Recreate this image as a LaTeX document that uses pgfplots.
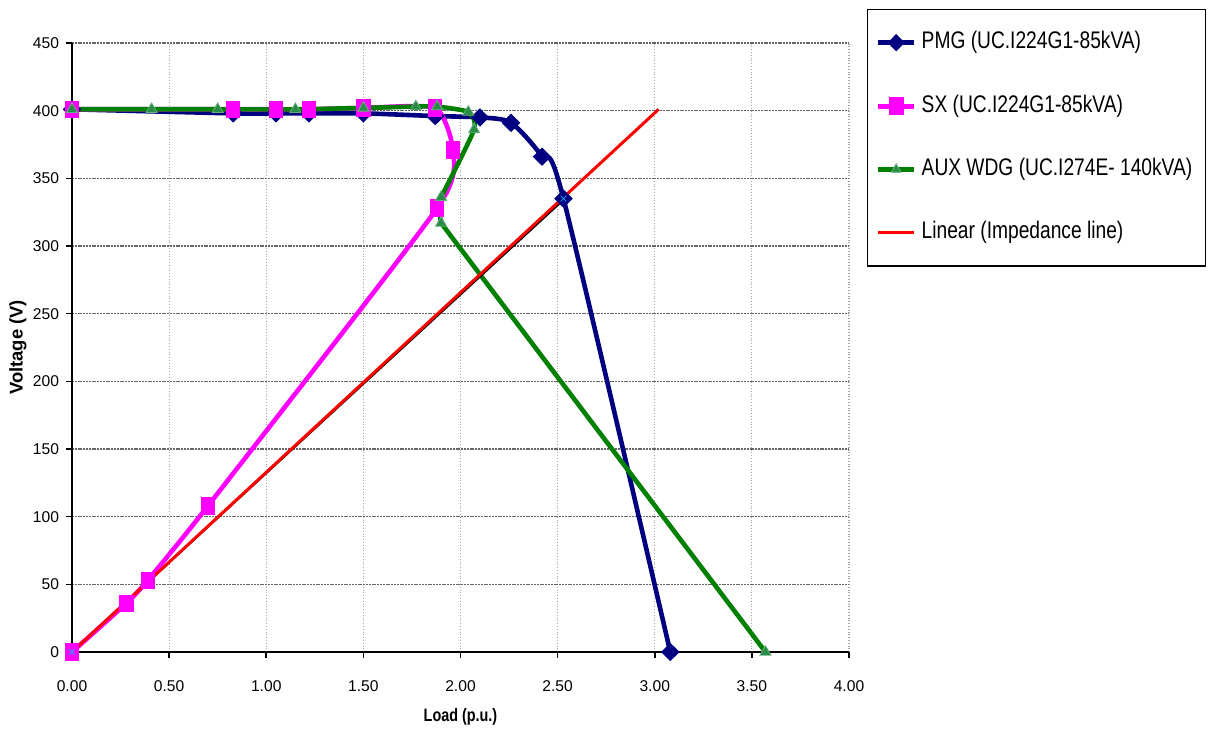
\documentclass[border=0pt]{standalone}
\usepackage{fontspec}
\setmainfont{Liberation Sans}
\newfontfamily\narrowsans{Liberation Sans}[FakeStretch=0.8]
\usepackage{pgfplots}
\pgfplotsset{compat=1.18}

\definecolor{pmg}{RGB}{0,0,128}
\definecolor{sx}{RGB}{255,0,255}
\definecolor{aux}{RGB}{0,128,0}
\definecolor{auxmk}{RGB}{40,140,70}
\definecolor{imp}{RGB}{255,0,0}

\begin{document}
\begin{tikzpicture}[x=1pt,y=1pt]
\useasboundingbox (0,0) rectangle (604,365.5);
\begin{axis}[
    at={(36pt,39.5pt)}, anchor=south west,
    scale only axis,
    width=388.5pt, height=304.5pt,
    xmin=0, xmax=4, ymin=0, ymax=450,
    clip=false,
    axis x line=bottom, axis y line=left,
    axis line style={-, line width=1pt, black},
    xtick={0,0.5,...,4}, ytick={0,50,...,450},
    tick align=outside, major tick length=3pt,
    tick style={black, line width=0.8pt},
    tick label style={font=\fontsize{7.8}{9}\selectfont},
    /pgf/number format/assume math mode=true,
    x tick label style={/pgf/number format/fixed,
        /pgf/number format/fixed zerofill,
        /pgf/number format/precision=2, yshift=-8pt},
    grid=major,
    x grid style={gray!70, densely dotted, line width=0.6pt},
    y grid style={black!60, dash pattern=on 1pt off 0.4pt, line width=0.7pt},
    xlabel={Load (p.u.)},
    ylabel={Voltage (V)},
    xlabel style={font=\narrowsans\bfseries\fontsize{9}{11}\selectfont,
        at={(axis description cs:0.5,-0.1067)}, anchor=center},
    ylabel style={font=\bfseries\fontsize{9.2}{11}\selectfont,
        at={(axis description cs:-0.0695,0.5)}, anchor=center},
    legend style={at={(1,1)}, anchor=north west, xshift=9pt, yshift=17pt,
        draw=black, line width=0.7pt, inner xsep=4pt, inner ysep=8.5pt,
        row sep=15.7pt,
        font=\narrowsans\fontsize{12}{14}\selectfont,
        nodes={inner xsep=2.5pt, inner ysep=2pt,
            text height=9pt, text depth=3pt}},
    legend cell align=left,
    legend image code/.code={
        \draw[mark repeat=2, mark phase=2, #1]
            plot coordinates {(0pt,0pt) (9pt,0pt) (18pt,0pt)};},
]

% lines first (as the spreadsheet draws them)
\addplot[pmg, line width=2.3pt, smooth, tension=0.45, forget plot] coordinates {
    (0,401) (0.83,398) (1.05,398) (1.22,398) (1.50,398) (1.87,396)
    (2.10,395) (2.26,391) (2.42,366) (2.53,335) (3.08,0)
};
\addplot[sx, line width=2.3pt, smooth, tension=0.35, forget plot] coordinates {
    (0,401) (0.83,401) (1.05,401) (1.22,401) (1.50,402) (1.87,402)
    (1.96,371) (1.88,328) (0.70,108) (0.39,53) (0.28,36) (0,0)
};
\addplot[aux, line width=2.3pt, smooth, tension=0.35, forget plot] coordinates {
    (0,401) (0.41,401) (0.75,401) (1.15,401) (1.50,402) (1.77,403)
    (1.88,403) (2.04,399) (2.07,386) (1.90,336)
};
\addplot[aux, line width=2.3pt, forget plot] coordinates {
    (1.90,336) (1.89,326) (1.90,317) (3.57,0)
};

% markers on top
\addplot[only marks, mark=diamond*, mark size=4.3pt,
    mark options={draw=pmg, fill=pmg, xscale=1.35}, forget plot] coordinates {
    (0,401) (0.83,398) (1.05,398) (1.22,398) (1.50,398) (1.87,396)
    (2.10,395) (2.26,391) (2.42,366) (2.53,335) (3.08,0)
};
\addplot[only marks, mark=square*, mark size=3.3pt,
    mark options={draw=sx, fill=sx, yscale=1.25}, forget plot] coordinates {
    (0,401) (0.83,401) (1.05,401) (1.22,401) (1.50,402) (1.87,402)
    (1.96,371) (1.88,328) (0.70,108) (0.39,53) (0.28,36) (0,0)
};
\addplot[only marks, mark=triangle*, mark size=3.2pt,
    mark options={draw=auxmk!70!white, fill=auxmk, line width=0.4pt}, forget plot] coordinates {
    (0,401) (0.41,401) (0.75,401) (1.15,401) (1.50,402) (1.77,403)
    (1.88,403) (2.04,399) (2.07,386) (1.90,336) (1.90,317) (3.57,0)
};

% impedance data and its linear trend
\addplot[black, line width=0.9pt, forget plot] coordinates {(0,0) (2.53,334)};
\addplot[only marks, mark=x, mark size=2pt, cyan, forget plot] coordinates {(0,0) (2.53,335)};
\addplot[imp, line width=1.5pt, forget plot] coordinates {(0,0) (3.02,401)};

\addlegendimage{pmg, line width=2.5pt, mark=diamond*, mark size=4pt,
    mark options={draw=pmg, fill=pmg, line width=0.5pt, xscale=1.3}}
\addlegendentry{PMG (UC.I224G1-85kVA)}
\addlegendimage{sx, line width=2.5pt, mark=square*, mark size=3.5pt,
    mark options={draw=sx, fill=sx, line width=0.5pt, yscale=1.2}}
\addlegendentry{SX (UC.I224G1-85kVA)}
\addlegendimage{aux, line width=2.5pt, mark=triangle*, mark size=2.8pt,
    mark options={draw=auxmk!70!white, fill=auxmk, line width=0.4pt}}
\addlegendentry{AUX WDG (UC.I274E- 140kVA)}
\addlegendimage{imp, line width=1.5pt}
\addlegendentry{Linear (Impedance line)}
\end{axis}
\end{tikzpicture}
\end{document}
